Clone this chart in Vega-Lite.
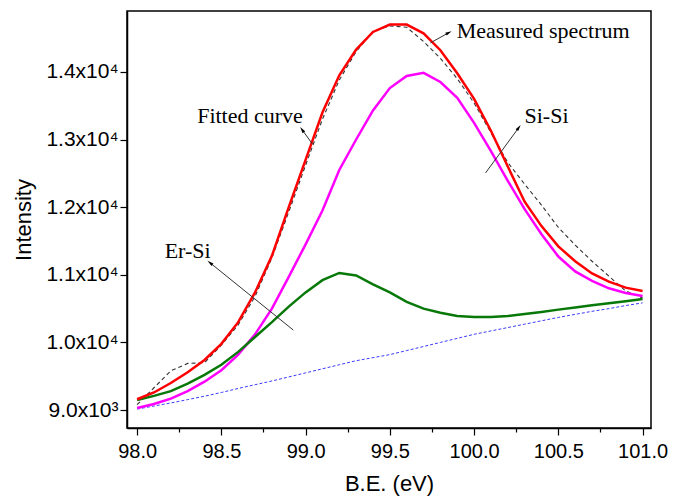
{
  "$schema": "https://vega.github.io/schema/vega-lite/v6.json",
  "width": 524,
  "height": 417,
  "autosize": {"type": "none"},
  "padding": {"left": 127, "top": 11, "right": 22, "bottom": 72},
  "background": "white",
  "config": {
    "view": {"stroke": "black", "strokeWidth": 1.5},
    "axis": {
      "domainColor": "black", "domainWidth": 1.5, "tickColor": "black", "tickWidth": 1.2,
      "labelFont": "Liberation Sans", "labelFontSize": 20, "labelColor": "black",
      "titleFont": "Liberation Sans", "titleFontSize": 22, "titleFontWeight": "normal", "titleColor": "black",
      "grid": false, "labelOverlap": false, "labelFlush": false
    }
  },
  "datasets": {
    "spec": [
      {"be": 98.0, "measured": 9080, "fitted": 9160, "sisi": 9030, "ersi": 9148, "bg": 9015},
      {"be": 98.1, "measured": 9330, "fitted": 9260, "sisi": 9090, "ersi": 9210, "bg": 9060},
      {"be": 98.2, "measured": 9580, "fitted": 9400, "sisi": 9170, "ersi": 9280, "bg": 9105},
      {"be": 98.3, "measured": 9690, "fitted": 9560, "sisi": 9280, "ersi": 9390, "bg": 9155},
      {"be": 98.4, "measured": 9700, "fitted": 9740, "sisi": 9420, "ersi": 9520, "bg": 9205},
      {"be": 98.5, "measured": 9960, "fitted": 9980, "sisi": 9590, "ersi": 9670, "bg": 9260},
      {"be": 98.6, "measured": 10260, "fitted": 10300, "sisi": 9820, "ersi": 9860, "bg": 9320},
      {"be": 98.7, "measured": 10680, "fitted": 10740, "sisi": 10120, "ersi": 10080, "bg": 9375},
      {"be": 98.8, "measured": 11250, "fitted": 11280, "sisi": 10500, "ersi": 10300, "bg": 9430},
      {"be": 98.9, "measured": 11930, "fitted": 12000, "sisi": 10970, "ersi": 10530, "bg": 9490},
      {"be": 99.0, "measured": 12620, "fitted": 12700, "sisi": 11450, "ersi": 10740, "bg": 9550},
      {"be": 99.1, "measured": 13300, "fitted": 13400, "sisi": 11950, "ersi": 10920, "bg": 9610},
      {"be": 99.2, "measured": 13880, "fitted": 13950, "sisi": 12550, "ersi": 11027, "bg": 9670},
      {"be": 99.3, "measured": 14300, "fitted": 14330, "sisi": 13000, "ersi": 10990, "bg": 9730},
      {"be": 99.4, "measured": 14600, "fitted": 14590, "sisi": 13430, "ersi": 10860, "bg": 9775},
      {"be": 99.5, "measured": 14680, "fitted": 14700, "sisi": 13760, "ersi": 10740, "bg": 9820},
      {"be": 99.6, "measured": 14660, "fitted": 14700, "sisi": 13940, "ersi": 10600, "bg": 9880},
      {"be": 99.7, "measured": 14450, "fitted": 14570, "sisi": 13985, "ersi": 10500, "bg": 9940},
      {"be": 99.8, "measured": 14200, "fitted": 14320, "sisi": 13850, "ersi": 10440, "bg": 10000},
      {"be": 99.9, "measured": 13900, "fitted": 13980, "sisi": 13615, "ersi": 10390, "bg": 10060},
      {"be": 100.0, "measured": 13540, "fitted": 13600, "sisi": 13246, "ersi": 10376, "bg": 10120},
      {"be": 100.1, "measured": 13100, "fitted": 13130, "sisi": 12830, "ersi": 10376, "bg": 10170},
      {"be": 100.2, "measured": 12660, "fitted": 12600, "sisi": 12390, "ersi": 10390, "bg": 10220},
      {"be": 100.3, "measured": 12340, "fitted": 12080, "sisi": 11970, "ersi": 10420, "bg": 10270},
      {"be": 100.4, "measured": 12030, "fitted": 11720, "sisi": 11600, "ersi": 10450, "bg": 10320},
      {"be": 100.5, "measured": 11700, "fitted": 11420, "sisi": 11270, "ersi": 10485, "bg": 10370},
      {"be": 100.6, "measured": 11440, "fitted": 11200, "sisi": 11050, "ersi": 10515, "bg": 10415},
      {"be": 100.7, "measured": 11200, "fitted": 11020, "sisi": 10910, "ersi": 10550, "bg": 10460},
      {"be": 100.8, "measured": 10980, "fitted": 10900, "sisi": 10800, "ersi": 10580, "bg": 10500},
      {"be": 100.9, "measured": 10760, "fitted": 10810, "sisi": 10730, "ersi": 10610, "bg": 10545},
      {"be": 101.0, "measured": 10657, "fitted": 10760, "sisi": 10686, "ersi": 10642, "bg": 10585}
    ],
    "notes": [
      {"label": "Fitted curve", "x": 98.67, "y": 13246},
      {"label": "Measured spectrum", "x": 100.41, "y": 14503},
      {"label": "Si-Si", "x": 100.43, "y": 13246},
      {"label": "Er-Si", "x": 98.30, "y": 11249}
    ],
    "arrows": [
      {"name": "fit", "x": 99.040, "y": 12935, "hx": 98.980, "hy": 13142},
      {"name": "meas", "x": 99.741, "y": 14429, "hx": 99.848, "hy": 14577},
      {"name": "sisi", "x": 100.068, "y": 12506, "hx": 100.264, "hy": 13172},
      {"name": "ersi", "x": 98.927, "y": 10183, "hx": 98.434, "hy": 11175}
    ]
  },
  "layer": [
    {
      "data": {"name": "spec"},
      "mark": {"type": "line", "color": "#3b3bff", "strokeWidth": 1, "strokeDash": [3, 2], "clip": true},
      "encoding": {
        "x": {"field": "be", "type": "quantitative", "scale": {"domain": [97.94, 101.05], "nice": false, "zero": false},
          "axis": {"title": "B.E. (eV)", "titlePadding": 12, "labelPadding": 6,
            "values": [98, 98.25, 98.5, 98.75, 99, 99.25, 99.5, 99.75, 100, 100.25, 100.5, 100.75, 101],
            "labelExpr": "datum.value * 2 % 1 == 0 ? format(datum.value, '.1f') : ''",
            "tickSize": {"condition": {"test": "datum.value * 2 % 1 != 0", "value": 4}, "value": 7}}},
        "y": {"field": "bg", "type": "quantitative", "scale": {"domain": [8735, 14900], "nice": false, "zero": false},
          "axis": {"title": "Intensity", "titlePadding": 10, "labelPadding": 2, "labelFontSize": 21,
            "values": [9000, 9500, 10000, 10500, 11000, 11500, 12000, 12500, 13000, 13500, 14000, 14500],
            "labelExpr": "datum.value % 1000 != 0 ? '' : (datum.value >= 10000 ? format(datum.value / 10000, '.1f') + 'x10⁴' : format(datum.value / 1000, '.1f') + 'x10³')",
            "tickSize": {"condition": {"test": "datum.value % 1000 != 0", "value": 4}, "value": 7}}}
      }
    },
    {
      "data": {"name": "spec"},
      "mark": {"type": "line", "color": "#333333", "strokeWidth": 1.1, "strokeDash": [4, 3]},
      "encoding": {"x": {"field": "be", "type": "quantitative"}, "y": {"field": "measured", "type": "quantitative"}}
    },
    {
      "data": {"name": "spec"},
      "mark": {"type": "line", "color": "#ff00ff", "strokeWidth": 2.5},
      "encoding": {"x": {"field": "be", "type": "quantitative"}, "y": {"field": "sisi", "type": "quantitative"}}
    },
    {
      "data": {"name": "spec"},
      "mark": {"type": "line", "color": "#087808", "strokeWidth": 2.5},
      "encoding": {"x": {"field": "be", "type": "quantitative"}, "y": {"field": "ersi", "type": "quantitative"}}
    },
    {
      "data": {"name": "spec"},
      "mark": {"type": "line", "color": "#ff0000", "strokeWidth": 2.5},
      "encoding": {"x": {"field": "be", "type": "quantitative"}, "y": {"field": "fitted", "type": "quantitative"}}
    },
    {
      "data": {"name": "arrows"},
      "mark": {"type": "rule", "color": "#333333", "strokeWidth": 1},
      "encoding": {
        "x": {"field": "x", "type": "quantitative"}, "y": {"field": "y", "type": "quantitative"},
        "x2": {"field": "hx"}, "y2": {"field": "hy"}
      }
    },
    {
      "data": {"name": "arrows"},
      "transform": [{"filter": "datum.name == 'fit'"}],
      "mark": {"type": "point", "shape": "M0,-1L0.45,0.8L-0.45,0.8Z", "filled": true, "color": "black", "opacity": 1, "size": 50, "angle": 325},
      "encoding": {"x": {"field": "hx", "type": "quantitative"}, "y": {"field": "hy", "type": "quantitative"}}
    },
    {
      "data": {"name": "arrows"},
      "transform": [{"filter": "datum.name == 'meas'"}],
      "mark": {"type": "point", "shape": "M0,-1L0.45,0.8L-0.45,0.8Z", "filled": true, "color": "black", "opacity": 1, "size": 50, "angle": 61},
      "encoding": {"x": {"field": "hx", "type": "quantitative"}, "y": {"field": "hy", "type": "quantitative"}}
    },
    {
      "data": {"name": "arrows"},
      "transform": [{"filter": "datum.name == 'sisi'"}],
      "mark": {"type": "point", "shape": "M0,-1L0.45,0.8L-0.45,0.8Z", "filled": true, "color": "black", "opacity": 1, "size": 50, "angle": 36},
      "encoding": {"x": {"field": "hx", "type": "quantitative"}, "y": {"field": "hy", "type": "quantitative"}}
    },
    {
      "data": {"name": "arrows"},
      "transform": [{"filter": "datum.name == 'ersi'"}],
      "mark": {"type": "point", "shape": "M0,-1L0.45,0.8L-0.45,0.8Z", "filled": true, "color": "black", "opacity": 1, "size": 50, "angle": 309},
      "encoding": {"x": {"field": "hx", "type": "quantitative"}, "y": {"field": "hy", "type": "quantitative"}}
    },
    {
      "data": {"name": "notes"},
      "mark": {"type": "text", "font": "Liberation Serif", "fontSize": 22, "color": "black", "align": "center", "baseline": "alphabetic"},
      "encoding": {
        "x": {"field": "x", "type": "quantitative"}, "y": {"field": "y", "type": "quantitative"},
        "text": {"field": "label", "type": "nominal"}
      }
    }
  ]
}
